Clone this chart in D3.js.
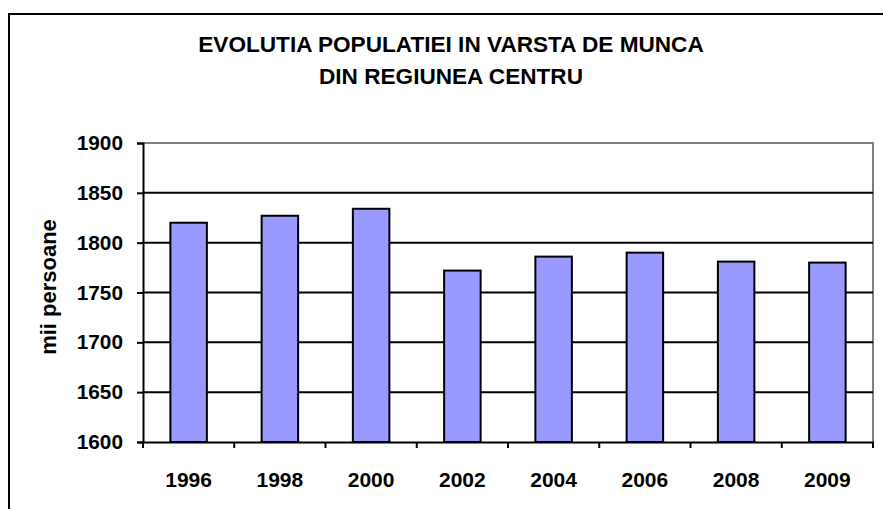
<!DOCTYPE html>
<html>
<head>
<meta charset="utf-8">
<script src="https://cdn.jsdelivr.net/npm/d3@7"></script>
<style>
  body { margin: 0; background: #fff; }
  svg { display: block; font-family: "Liberation Sans", Arial, sans-serif; font-weight: bold; }
</style>
</head>
<body>
<svg width="883" height="509"></svg>
<script>
// date
const years = ["1996", "1998", "2000", "2002", "2004", "2006", "2008", "2009"];
const values = [1820, 1827, 1834, 1772, 1786, 1790, 1781, 1780];
const yTicks = [1600, 1650, 1700, 1750, 1800, 1850, 1900];
const titleLines = ["EVOLUTIA POPULATIEI IN VARSTA DE MUNCA", "DIN REGIUNEA CENTRU"];
const yLabel = "mii persoane";

const svg = d3.select("svg");
const plot = { left: 143, right: 873, top: 143, bottom: 442 };

const x = d3.scaleBand().domain(years).range([plot.left, plot.right]).paddingInner(0.6).paddingOuter(0.3);
const xEdges = d3.scaleBand().domain(years).range([plot.left, plot.right]);
const y = d3.scaleLinear().domain([1600, 1900]).range([plot.bottom, plot.top]);

// chenarul exterior
svg.append("rect")
  .attr("x", 9).attr("y", 14)
  .attr("width", 890).attr("height", 520)
  .attr("fill", "none").attr("stroke", "#000").attr("stroke-width", 2);

// titlul
svg.selectAll(".title")
  .data(titleLines)
  .enter()
  .append("text")
  .attr("x", 451)
  .attr("y", (d, i) => 52 + i * 32)
  .attr("text-anchor", "middle")
  .attr("font-size", 22.6)
  .text(d => d);

// chenarul zonei de plot (gri sus si dreapta)
svg.append("path")
  .attr("d", `M${plot.left},${plot.top}H${plot.right}V${plot.bottom}`)
  .attr("fill", "none").attr("stroke", "#808080").attr("stroke-width", 2);

// liniile de grila
svg.selectAll(".grid")
  .data(yTicks.filter(t => t > 1600 && t < 1900))
  .enter()
  .append("line")
  .attr("x1", plot.left).attr("x2", plot.right)
  .attr("y1", d => y(d)).attr("y2", d => y(d))
  .attr("stroke", "#000").attr("stroke-width", 2);

// barele
svg.selectAll(".bar")
  .data(values)
  .enter()
  .append("rect")
  .attr("x", (d, i) => x(years[i]))
  .attr("y", d => y(d))
  .attr("width", x.bandwidth())
  .attr("height", d => y(1600) - y(d))
  .attr("fill", "#9999ff")
  .attr("stroke", "#000").attr("stroke-width", 2);

// axa Y
const yAxis = svg.append("g")
  .attr("transform", `translate(${plot.left},0)`)
  .call(d3.axisLeft(y).tickValues(yTicks).tickSize(6).tickPadding(14).tickFormat(d3.format("d")));
yAxis.select(".domain").attr("stroke-width", 2);
yAxis.selectAll(".tick line").attr("stroke-width", 2);
yAxis.selectAll("text").attr("font-size", 20.8).attr("font-family", null).attr("fill", "#000");

// axa X, cu gradatii intre categorii
const xAxis = svg.append("g")
  .attr("transform", `translate(0,${plot.bottom})`)
  .call(d3.axisBottom(x).tickSize(0).tickPadding(30));
xAxis.select(".domain").attr("stroke-width", 2);
xAxis.selectAll("text").attr("font-size", 21).attr("font-family", null).attr("fill", "#000");
xAxis.selectAll(".edge")
  .data(years.map(yr => xEdges(yr)).concat([plot.right]))
  .enter()
  .append("line")
  .attr("x1", d => d).attr("x2", d => d)
  .attr("y1", 0).attr("y2", 6)
  .attr("stroke", "#000").attr("stroke-width", 2);

// eticheta axei Y
svg.append("text")
  .attr("transform", `translate(56,287) rotate(-90)`)
  .attr("text-anchor", "middle")
  .attr("font-size", 22)
  .text(yLabel);
</script>
</body>
</html>
